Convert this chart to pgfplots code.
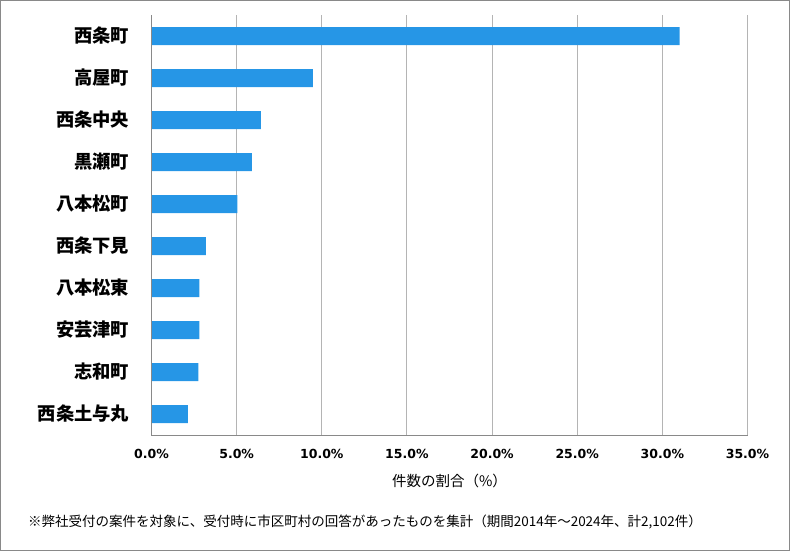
\documentclass[border=0pt]{standalone}
\usepackage{fontspec}
\setmainfont{Liberation Sans}
\newfontfamily\jp{Noto Sans CJK JP}
\newfontfamily\tickfont{DejaVu Sans}
\usepackage{pgfplots}
\pgfplotsset{compat=1.18}
\usetikzlibrary{calc}
\definecolor{barblue}{RGB}{38,150,230}
\definecolor{gridgray}{RGB}{180,180,180}
\definecolor{axgray}{RGB}{137,137,137}
\begin{document}
\begin{tikzpicture}
\begin{axis}[
  name=ax, at={(0,0)}, anchor=south west,
  scale only axis, width=596pt, height=420pt,
  xbar, bar width=18pt,
  xmin=0, xmax=35, ymin=0.5, ymax=10.5, y dir=reverse,
  axis x line*=bottom, axis y line*=left,
  axis line style={axgray, line width=1pt, -},
  xmajorgrids, major grid style={gridgray, line width=1pt},
  major tick length=0pt,
  xtick={0,5,...,35},
  xticklabels={0.0\%,5.0\%,10.0\%,15.0\%,20.0\%,25.0\%,30.0\%,35.0\%},
  xticklabel style={font=\tickfont\bfseries\fontsize{12.5}{15}\selectfont, inner sep=0pt, anchor=north, yshift=-14pt},
  ytick={1,...,10},
  yticklabels={西条町,高屋町,西条中央,黒瀬町,八本松町,西条下見,八本松東,安芸津町,志和町,西条土与丸},
  yticklabel style={font=\jp\bfseries\fontsize{18.3}{20}\selectfont, inner sep=0pt, anchor=east, xshift=-22pt},
  xlabel={件数の割合（\%）},
  xlabel style={font=\jp\fontsize{14.5}{16}\selectfont, at={(axis description cs:0.5,0)}, anchor=center, yshift=-46pt},
]
\addplot[fill=barblue, draw=none] coordinates {
  (31.02,1) (9.47,2) (6.42,3) (5.90,4) (5.04,5)
  (3.19,6) (2.81,7) (2.81,8) (2.76,9) (2.14,10)};
\end{axis}
\draw[axgray, line width=1pt] (ax.south west) -- (ax.north west);
\node[anchor=west, inner sep=0pt, font=\jp\fontsize{13.5}{15}\selectfont]
  at ($(ax.south west)+(-123.5pt,-87pt)$) {※弊社受付の案件を対象に、受付時に市区町村の回答があったものを集計（期間2014年～2024年、計2,102件）};
\draw[axgray, line width=1pt] ($(ax.south west)+(-151pt,-115.5pt)$) rectangle ($(ax.north east)+(42pt,14.5pt)$);
\end{tikzpicture}
\end{document}
